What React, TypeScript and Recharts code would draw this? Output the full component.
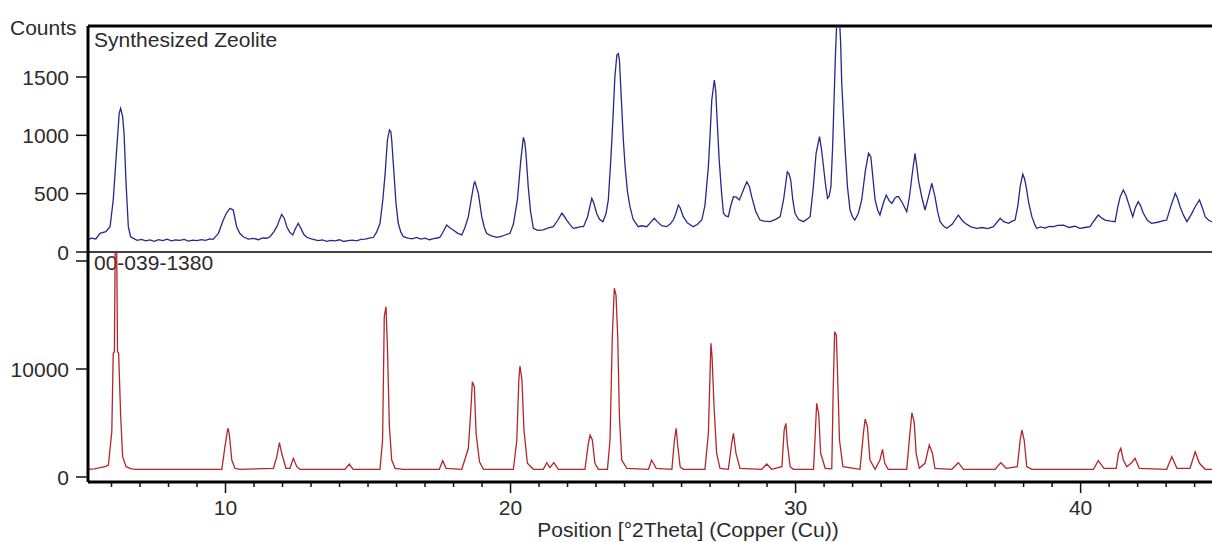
import { LineChart, Line, XAxis, YAxis, ReferenceLine, Label } from "recharts";

// [2theta, counts]
const zeolitePattern: [number, number][] = [
  [5.15, 105], [5.3, 118], [5.45, 112], [5.6, 160], [5.8, 175], [5.95, 217], [6.06, 446], [6.18, 874],
  [6.27, 1189], [6.32, 1231], [6.39, 1160], [6.44, 1017], [6.51, 589], [6.59, 217], [6.67, 131], [6.77, 117],
  [6.9, 100], [7.05, 108], [7.2, 96], [7.35, 104], [7.5, 92], [7.65, 106], [7.8, 98], [7.95, 110],
  [8.1, 95], [8.25, 103], [8.4, 99], [8.55, 108], [8.7, 94], [8.85, 101], [9.0, 97], [9.15, 106],
  [9.3, 100], [9.45, 112], [9.56, 108], [9.75, 160], [9.92, 274], [10.05, 340], [10.16, 374], [10.27, 360],
  [10.39, 217], [10.5, 160], [10.62, 131], [10.8, 110], [10.98, 117], [11.15, 105], [11.3, 120], [11.45, 118],
  [11.56, 131], [11.7, 175], [11.8, 217], [11.97, 323], [12.06, 290], [12.15, 217], [12.25, 170], [12.36, 146],
  [12.45, 200], [12.55, 246], [12.65, 200], [12.75, 150], [12.85, 126], [13.0, 112], [13.08, 109], [13.25, 98],
  [13.4, 104], [13.55, 92], [13.7, 100], [13.85, 95], [14.0, 105], [14.15, 90], [14.3, 98], [14.45, 102],
  [14.6, 95], [14.75, 108], [14.9, 110], [15.05, 118], [15.19, 126], [15.3, 170], [15.42, 246], [15.52, 450],
  [15.6, 674], [15.68, 960], [15.75, 1046], [15.8, 1030], [15.83, 960], [15.91, 674], [15.98, 420], [16.06, 246],
  [16.15, 170], [16.24, 131], [16.4, 118], [16.55, 112], [16.7, 125], [16.85, 110], [17.0, 118], [17.15, 105],
  [17.3, 115], [17.45, 120], [17.53, 129], [17.65, 180], [17.76, 231], [17.88, 205], [17.99, 189], [18.15, 160],
  [18.29, 146], [18.4, 210], [18.52, 303], [18.62, 450], [18.72, 590], [18.75, 602], [18.8, 560], [18.87, 503],
  [18.99, 303], [19.08, 210], [19.16, 160], [19.3, 140], [19.52, 126], [19.7, 135], [19.85, 150], [19.98, 160],
  [20.1, 240], [20.24, 446], [20.36, 788], [20.45, 983], [20.5, 940], [20.54, 846], [20.62, 560], [20.7, 350],
  [20.8, 203], [20.95, 185], [21.15, 189], [21.3, 205], [21.5, 217], [21.65, 270], [21.8, 332], [21.9, 300],
  [21.97, 274], [22.1, 230], [22.2, 203], [22.35, 210], [22.44, 217], [22.56, 217], [22.7, 300], [22.85, 460],
  [22.92, 420], [23.02, 332], [23.12, 280], [23.24, 260], [23.35, 330], [23.43, 446], [23.52, 800], [23.59, 1131],
  [23.66, 1500], [23.73, 1688], [23.78, 1700], [23.82, 1645], [23.9, 1245], [23.96, 950], [24.02, 731], [24.1, 520],
  [24.19, 388], [24.3, 280], [24.48, 217], [24.6, 225], [24.78, 217], [24.9, 250], [25.04, 289], [25.15, 260],
  [25.3, 225], [25.48, 217], [25.6, 240], [25.71, 274], [25.8, 330], [25.89, 403], [25.95, 380], [26.06, 303],
  [26.2, 250], [26.41, 217], [26.55, 235], [26.71, 274], [26.82, 400], [26.94, 731], [27.0, 1000], [27.06, 1303],
  [27.15, 1474], [27.2, 1380], [27.23, 1217], [27.32, 788], [27.4, 520], [27.47, 332], [27.55, 310], [27.64, 303],
  [27.72, 390], [27.82, 474], [27.92, 470], [28.03, 446], [28.15, 520], [28.29, 602], [28.38, 560], [28.46, 474],
  [28.6, 350], [28.75, 274], [28.9, 265], [29.11, 260], [29.3, 280], [29.46, 303], [29.58, 450], [29.71, 688],
  [29.77, 670], [29.83, 617], [29.9, 450], [29.98, 332], [30.1, 280], [30.27, 260], [30.4, 280], [30.51, 303],
  [30.62, 550], [30.72, 846], [30.84, 988], [30.91, 880], [30.98, 731], [31.05, 580], [31.12, 460], [31.18, 480],
  [31.24, 560], [31.3, 900], [31.35, 1303], [31.4, 1700], [31.45, 2000], [31.54, 2000], [31.58, 1800], [31.62, 1446],
  [31.68, 1150], [31.74, 874], [31.82, 560], [31.91, 360], [32.0, 300], [32.08, 274], [32.2, 330], [32.32, 446],
  [32.45, 700], [32.56, 846], [32.64, 817], [32.72, 620], [32.79, 446], [32.88, 360], [32.96, 317], [33.08, 420],
  [33.18, 488], [33.28, 440], [33.38, 417], [33.48, 460], [33.55, 474], [33.61, 474], [33.75, 420], [33.9, 345],
  [34.0, 480], [34.08, 645], [34.19, 846], [34.25, 740], [34.31, 617], [34.42, 480], [34.54, 360], [34.66, 470],
  [34.78, 589], [34.89, 474], [34.98, 350], [35.07, 260], [35.2, 220], [35.31, 203], [35.5, 240], [35.71, 317],
  [35.85, 270], [35.95, 246], [36.15, 215], [36.36, 203], [36.55, 210], [36.75, 200], [36.94, 217], [37.05, 250],
  [37.18, 289], [37.3, 260], [37.47, 246], [37.6, 265], [37.7, 274], [37.8, 400], [37.88, 560], [37.97, 668],
  [38.03, 630], [38.09, 560], [38.18, 420], [38.29, 303], [38.4, 230], [38.46, 203], [38.6, 215], [38.75, 205],
  [38.9, 220], [39.05, 217], [39.2, 228], [39.4, 231], [39.6, 210], [39.8, 222], [39.98, 203], [40.15, 210],
  [40.33, 217], [40.48, 270], [40.62, 317], [40.75, 290], [40.86, 274], [41.05, 265], [41.21, 260], [41.3, 380],
  [41.39, 474], [41.5, 531], [41.6, 480], [41.68, 417], [41.83, 303], [41.92, 380], [42.02, 431], [42.1, 400],
  [42.2, 332], [42.35, 270], [42.49, 246], [42.7, 255], [42.85, 265], [43.02, 274], [43.15, 380], [43.32, 503],
  [43.4, 460], [43.49, 388], [43.6, 320], [43.73, 260], [43.88, 320], [44.02, 388], [44.17, 446], [44.27, 380],
  [44.37, 303], [44.5, 270], [44.61, 260],
];

// [2theta, counts] of reference pattern 00-039-1380
const referencePattern: [number, number][] = [
  [5.15, 713], [5.4, 760], [5.6, 861], [5.8, 980], [5.89, 1111], [6.01, 4195], [6.06, 11455], [6.1, 11600],
  [6.13, 21500], [6.18, 21500], [6.21, 11600], [6.25, 11455], [6.32, 5741], [6.39, 1880], [6.51, 954], [6.7, 760],
  [6.88, 713], [9.87, 713], [9.98, 2806], [10.08, 4510], [10.13, 4047], [10.22, 1574], [10.33, 806], [10.5, 713],
  [11.68, 806], [11.8, 1880], [11.89, 3176], [11.97, 2195], [12.12, 806], [12.26, 806], [12.38, 1732], [12.5, 954],
  [12.61, 713], [14.19, 713], [14.34, 1204], [14.48, 713], [15.42, 713], [15.51, 3426], [15.57, 14844], [15.63, 15770],
  [15.68, 12066], [15.75, 4658], [15.83, 1574], [15.95, 806], [16.24, 713], [17.5, 713], [17.62, 1509], [17.74, 806],
  [18.29, 713], [18.52, 2658], [18.61, 6362], [18.66, 8825], [18.73, 8362], [18.79, 4047], [18.91, 1417], [19.05, 713],
  [20.1, 713], [20.22, 3426], [20.29, 8982], [20.33, 10279], [20.4, 8982], [20.47, 4352], [20.59, 1269], [20.8, 713],
  [21.15, 713], [21.27, 1324], [21.38, 861], [21.52, 1324], [21.68, 713], [22.61, 713], [22.73, 3121], [22.79, 3889],
  [22.87, 3426], [22.96, 1269], [23.08, 713], [23.4, 713], [23.49, 3426], [23.57, 12992], [23.64, 17474], [23.7, 16853],
  [23.76, 12992], [23.82, 5584], [23.9, 1574], [24.08, 806], [24.84, 713], [24.95, 1574], [25.11, 806], [25.66, 713],
  [25.75, 3426], [25.81, 4510], [25.87, 2806], [25.95, 954], [26.06, 713], [26.82, 713], [26.94, 4047], [27.03, 12381],
  [27.07, 11140], [27.14, 6510], [27.23, 2195], [27.35, 806], [27.64, 713], [27.76, 3121], [27.82, 4047], [27.91, 2195],
  [28.05, 806], [28.81, 713], [28.99, 1204], [29.16, 713], [29.52, 954], [29.6, 4352], [29.66, 4973], [29.71, 3121],
  [29.81, 954], [29.92, 713], [30.63, 713], [30.68, 3426], [30.74, 6825], [30.81, 5898], [30.88, 2195], [31.04, 806],
  [31.27, 760], [31.32, 8056], [31.37, 13455], [31.43, 13149], [31.49, 8056], [31.54, 3426], [31.66, 954], [32.26, 713],
  [32.38, 4047], [32.44, 5371], [32.52, 4658], [32.61, 1574], [32.79, 713], [32.96, 1574], [33.05, 2565], [33.13, 1269],
  [33.25, 713], [33.9, 713], [33.99, 3426], [34.08, 5954], [34.16, 5121], [34.23, 2195], [34.34, 806], [34.54, 1269],
  [34.69, 2963], [34.8, 2195], [34.89, 806], [35.48, 713], [35.71, 1324], [35.89, 713], [37.0, 713], [37.2, 1324],
  [37.39, 806], [37.78, 954], [37.88, 3426], [37.94, 4352], [38.02, 3426], [38.11, 954], [38.29, 713], [40.45, 713],
  [40.62, 1509], [40.82, 806], [41.25, 806], [41.33, 2195], [41.41, 2658], [41.5, 1574], [41.62, 954], [41.79, 1324],
  [41.91, 1732], [42.06, 806], [43.02, 713], [43.2, 1880], [43.38, 806], [43.84, 806], [44.02, 2343], [44.17, 1269],
  [44.37, 713], [44.61, 713],
];

const thetaDomain: [number, number] = [5.175, 44.61];
const thetaTicks = [6, 7, 8, 9, 10, 11, 12, 13, 14, 15, 16, 17, 18, 19, 20, 21, 22, 23, 24, 25, 26, 27, 28, 29, 30, 31, 32, 33, 34, 35, 36, 37, 38, 39, 40, 41, 42, 43, 44];
const zeoliteDomain: [number, number] = [0, 1937];
const zeoliteTicks = [0, 500, 1000, 1500];
const referenceDomain: [number, number] = [-463, 20833];
const referenceTicks = [0, 10000, 20000];

const FONT = "'Liberation Sans', Arial, sans-serif";
const TEXT = "#2b2b2b";

const zeoliteData = zeolitePattern.map(([theta, counts]) => ({ theta, counts }));
const referenceData = referencePattern.map(([theta, counts]) => ({ theta, counts }));

function renderYTick(props: any, hideLabels: number[] = []) {
  const { x, y, payload } = props;
  return (
    <g>
      <line x1={x - 12} x2={x} y1={y} y2={y} stroke="#111" strokeWidth={1.5} />
      {!hideLabels.includes(payload.value) && (
        <text x={x - 19} y={y} dy="0.36em" textAnchor="end" fontSize={21} fontFamily={FONT} fill={TEXT}>
          {payload.value}
        </text>
      )}
    </g>
  );
}

function renderXTick(props: any) {
  const { x, y, payload } = props;
  const major = payload.value % 10 === 0;
  return (
    <g>
      <line x1={x} x2={x} y1={y} y2={y + (major ? 11 : 5)} stroke="#111" strokeWidth={1.5} />
      {major && (
        <text x={x} y={y + 33} textAnchor="middle" fontSize={21} fontFamily={FONT} fill={TEXT}>
          {payload.value}
        </text>
      )}
    </g>
  );
}

const panelTitle = (title: string, dy: number) => (props: any) => {
  const vb = props.viewBox || {};
  return (
    <text x={vb.x + 6} y={vb.y + dy} fontSize={21} fontFamily={FONT} fill={TEXT}>
      {title}
    </text>
  );
};

export default function App() {
  return (
    <div style={{ position: "absolute", left: 0, top: 0, width: 1212, height: 542, background: "#fff" }}>
      <div style={{ position: "absolute", left: 0, top: 0 }}>
        <LineChart width={1212} height={276} data={zeoliteData} margin={{ top: 26, right: 0, bottom: 24, left: 0 }}>
          <XAxis type="number" dataKey="theta" domain={thetaDomain} allowDataOverflow hide />
          <YAxis
            type="number"
            domain={zeoliteDomain}
            allowDataOverflow
            ticks={zeoliteTicks}
            interval={0}
            width={88}
            tickSize={0}
            tickMargin={0}
            tickLine={false}
            axisLine={{ stroke: "#000", strokeWidth: 3 }}
            tick={(p: any) => renderYTick(p)}
          >
            <Label
              content={(p: any) => (
                <text x={(p.viewBox?.x ?? 0) + 10} y={(p.viewBox?.y ?? 26) + 9} fontSize={21} fontFamily={FONT} fill={TEXT}>
                  Counts
                </text>
              )}
            />
          </YAxis>
          <ReferenceLine y={zeoliteDomain[1]} stroke="#000" strokeWidth={3} label={panelTitle("Synthesized Zeolite", 21)} />
          <ReferenceLine y={0} stroke="#000" strokeWidth={1.5} />
          <Line type="linear" dataKey="counts" stroke="#27278c" strokeWidth={1.3} dot={false} isAnimationActive={false} />
        </LineChart>
      </div>
      <div style={{ position: "absolute", left: 0, top: 248 }}>
        <LineChart width={1212} height={294} data={referenceData} margin={{ top: 4, right: 0, bottom: 0, left: 0 }}>
          <XAxis
            type="number"
            dataKey="theta"
            domain={thetaDomain}
            allowDataOverflow
            ticks={thetaTicks}
            interval={0}
            height={60}
            tickSize={0}
            tickMargin={0}
            tickLine={false}
            axisLine={{ stroke: "#000", strokeWidth: 3 }}
            tick={renderXTick}
          >
            <Label
              content={(p: any) => (
                <text x={(p.viewBox?.x ?? 88) + 600} y={(p.viewBox?.y ?? 482) + 55} textAnchor="middle" fontSize={21} fontFamily={FONT} fill={TEXT}>
                  Position [°2Theta] (Copper (Cu))
                </text>
              )}
            />
          </XAxis>
          <YAxis
            type="number"
            domain={referenceDomain}
            allowDataOverflow
            ticks={referenceTicks}
            interval={0}
            width={88}
            tickSize={0}
            tickMargin={0}
            tickLine={false}
            axisLine={{ stroke: "#000", strokeWidth: 3 }}
            tick={(p: any) => renderYTick(p, [20000])}
          />
          <ReferenceLine y={referenceDomain[1]} stroke="none" label={panelTitle("00-039-1380", 18)} />
          <Line type="linear" dataKey="counts" stroke="#b3262b" strokeWidth={1.3} dot={false} isAnimationActive={false} />
        </LineChart>
      </div>
    </div>
  );
}
